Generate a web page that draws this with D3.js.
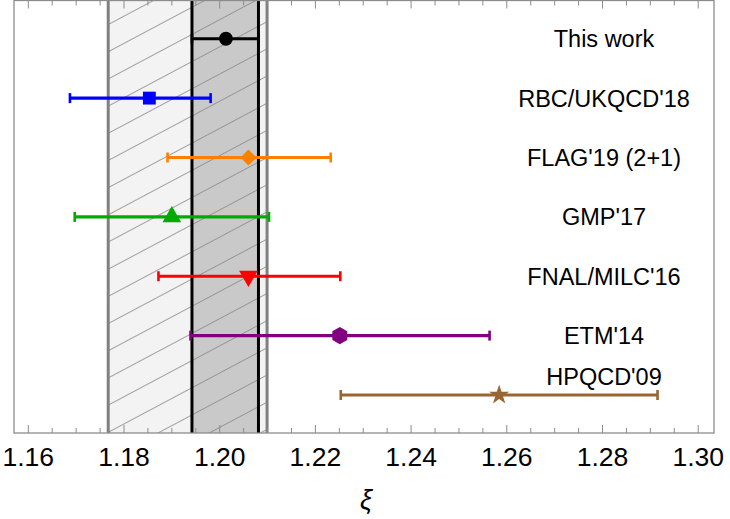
<!DOCTYPE html>
<html>
<head>
<meta charset="utf-8">
<script src="https://cdn.jsdelivr.net/npm/d3@7"></script>
<style>
  body { margin: 0; background: #fff; }
  text { font-family: "Liberation Sans", Arial, sans-serif; }
</style>
</head>
<body>
<svg width="730" height="519"></svg>
<script>
var labels = ["This work", "RBC/UKQCD'18", "FLAG'19 (2+1)", "GMP'17", "FNAL/MILC'16", "ETM'14", "HPQCD'09"];
var centers = [1.2013, 1.1853, 1.206, 1.190, 1.206, 1.2251, 1.2584];
var lows    = [1.1942, 1.1687, 1.1891, 1.1697, 1.1872, 1.1939, 1.2253];
var highs   = [1.2081, 1.1981, 1.2232, 1.2103, 1.2252, 1.2564, 1.2915];
var colors  = ["#000000", "#0000ff", "#ff8000", "#00aa00", "#ff0000", "#800080", "#996633"];
var shapes  = ["circle", "square", "diamond", "triUp", "triDown", "hexagon", "star"];

var statBand  = [1.1942, 1.2081];
var totalBand = [1.1767, 1.2099];

var majorTicks = [1.16, 1.18, 1.20, 1.22, 1.24, 1.26, 1.28, 1.30];

var svg = d3.select("svg"),
    pLeft = 14, pRight = 714, pTop = 0.5, pBottom = 433;

var x = d3.scaleLinear().domain([1.15701, 1.3033]).range([pLeft, pRight]);
var y = d3.scaleLinear().domain([-0.644, 6.64]).range([pTop, pBottom]);

var defs = svg.append("defs");
defs.append("clipPath").attr("id", "plot")
  .append("rect").attr("x", pLeft).attr("y", pTop)
  .attr("width", pRight - pLeft).attr("height", pBottom - pTop);

var pat = defs.append("pattern")
    .attr("id", "hatch")
    .attr("patternUnits", "userSpaceOnUse")
    .attr("width", 24).attr("height", 24)
    .attr("patternTransform", "rotate(-28)");
pat.append("line")
    .attr("x1", 0).attr("y1", 0.5).attr("x2", 24).attr("y2", 0.5)
    .attr("stroke", "#8a8a8a").attr("stroke-width", 0.8);

var bands = svg.append("g").attr("clip-path", "url(#plot)");

bands.append("rect")
    .attr("x", x(totalBand[0])).attr("y", pTop)
    .attr("width", x(totalBand[1]) - x(totalBand[0])).attr("height", pBottom - pTop)
    .attr("fill", "#f3f3f3");
bands.append("rect")
    .attr("x", x(statBand[0])).attr("y", pTop)
    .attr("width", x(statBand[1]) - x(statBand[0])).attr("height", pBottom - pTop)
    .attr("fill", "#c9c9c9");
bands.append("rect")
    .attr("x", x(totalBand[0])).attr("y", pTop)
    .attr("width", x(totalBand[1]) - x(totalBand[0])).attr("height", pBottom - pTop)
    .attr("fill", "url(#hatch)");

bands.selectAll(".tedge").data(totalBand).enter().append("line")
    .attr("x1", d => x(d)).attr("x2", d => x(d))
    .attr("y1", pTop).attr("y2", pBottom)
    .attr("stroke", "#808080").attr("stroke-width", 3);
bands.selectAll(".sedge").data(statBand).enter().append("line")
    .attr("x1", d => x(d)).attr("x2", d => x(d))
    .attr("y1", pTop).attr("y2", pBottom)
    .attr("stroke", "#000").attr("stroke-width", 3);

// error bars
var rows = labels.map(function(l, i) {
  return {label: l, c: centers[i], lo: lows[i], hi: highs[i], color: colors[i], shape: shapes[i], i: i};
});

var row = svg.selectAll(".row").data(rows).enter().append("g")
    .attr("transform", d => "translate(0," + y(d.i) + ")");

row.append("line")
    .attr("x1", d => x(d.lo)).attr("x2", d => x(d.hi))
    .attr("stroke", d => d.color).attr("stroke-width", 3.2);
row.append("line")
    .attr("x1", d => x(d.lo)).attr("x2", d => x(d.lo))
    .attr("y1", -5).attr("y2", 5)
    .attr("stroke", d => d.color).attr("stroke-width", 2.6);
row.append("line")
    .attr("x1", d => x(d.hi)).attr("x2", d => x(d.hi))
    .attr("y1", -5).attr("y2", 5)
    .attr("stroke", d => d.color).attr("stroke-width", 2.6);

function hexPath(r) {
  var p = d3.path();
  for (var k = 0; k < 6; k++) {
    var a = Math.PI / 3 * k - Math.PI / 2;
    if (k === 0) p.moveTo(r * Math.cos(a), r * Math.sin(a));
    else p.lineTo(r * Math.cos(a), r * Math.sin(a));
  }
  p.closePath();
  return p.toString();
}

function markerPath(s) {
  if (s === "circle") return d3.symbol(d3.symbolCircle, 150)();
  if (s === "square") return d3.symbol(d3.symbolSquare, 165)();
  if (s === "diamond") return d3.symbol(d3.symbolSquare, 130)();
  if (s === "triUp" || s === "triDown") return d3.symbol(d3.symbolTriangle, 150)();
  if (s === "hexagon") return hexPath(8.6);
  if (s === "star") return d3.symbol(d3.symbolStar, 125)();
}

row.append("path")
    .attr("d", d => markerPath(d.shape))
    .attr("transform", function(d) {
      var t = "translate(" + x(d.c) + ",0)";
      if (d.shape === "diamond") t += " rotate(45)";
      if (d.shape === "triDown") t += " rotate(180)";
      return t;
    })
    .attr("fill", d => d.color);

row.append("text")
    .attr("x", 604)
    .attr("y", d => d.i === labels.length - 1 ? -10 : 8.5)
    .attr("text-anchor", "middle")
    .attr("font-size", "23.5px")
    .attr("fill", "#000")
    .text(d => d.label);

// frame
svg.append("rect")
    .attr("x", pLeft).attr("y", pTop)
    .attr("width", pRight - pLeft).attr("height", pBottom - pTop)
    .attr("fill", "none").attr("stroke", "#8c8c8c").attr("stroke-width", 1.3);

var minorTicks = d3.range(1.16, 1.3001, 0.005).filter(function(v) {
  return !majorTicks.some(m => Math.abs(m - v) < 1e-6);
});

var axisG = svg.append("g").attr("stroke", "#8c8c8c").attr("stroke-width", 1);
[[majorTicks, 8], [minorTicks, 5]].forEach(function(pair) {
  axisG.selectAll(null).data(pair[0]).enter().append("line")
      .attr("x1", d => x(d)).attr("x2", d => x(d))
      .attr("y1", pBottom).attr("y2", pBottom - pair[1]);
  axisG.selectAll(null).data(pair[0]).enter().append("line")
      .attr("x1", d => x(d)).attr("x2", d => x(d))
      .attr("y1", pTop).attr("y2", pTop + pair[1]);
});

svg.selectAll(".tl").data(majorTicks).enter().append("text")
    .attr("x", d => x(d)).attr("y", 466)
    .attr("text-anchor", "middle")
    .attr("font-size", "26.5px")
    .text(d3.format(".2f"));

svg.append("text")
    .attr("x", 366).attr("y", 509)
    .attr("text-anchor", "middle")
    .attr("font-size", "27px")
    .attr("font-style", "italic")
    .attr("font-family", "'DejaVu Serif', serif")
    .text("ξ");
</script>
</body>
</html>
